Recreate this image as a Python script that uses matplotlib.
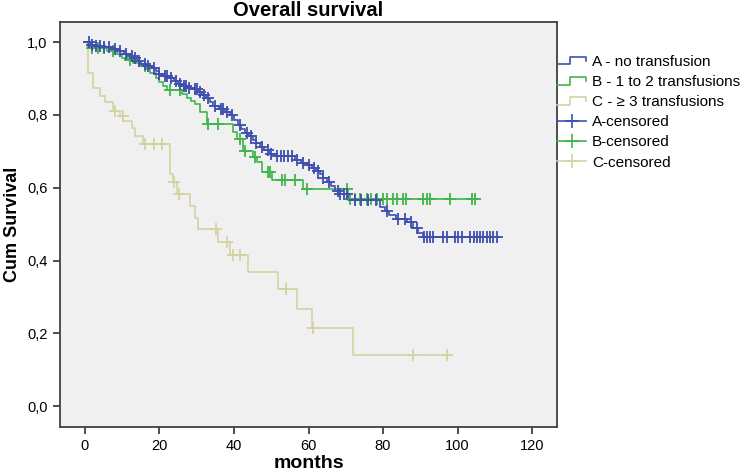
import numpy as np
import matplotlib
matplotlib.use("Agg")
import matplotlib.pyplot as plt
from matplotlib.lines import Line2D
from matplotlib.legend_handler import HandlerBase

plt.rcParams['font.family'] = ['Liberation Sans', 'DejaVu Sans']

# ---------------- data ----------------
A_times = [0, 1.5, 3, 5, 7, 9, 10.5, 12, 13, 14, 15, 16.5, 18, 19, 20, 21, 22.5, 24, 25, 26,
           27.5, 29, 30.5, 31.5, 32.5, 33.5, 34.5, 36, 37.5, 39, 40, 41, 42, 43, 44, 45, 46, 47,
           48, 49.5, 51, 56.5, 58, 59.5, 61, 62, 63, 64, 65, 66, 67, 68, 70.6, 79.2, 80.5, 81.5,
           83.5, 86.5, 88, 89.5, 90.8]
A_surv = [1.0, 0.993, 0.989, 0.985, 0.980, 0.975, 0.968, 0.962, 0.955, 0.948, 0.941, 0.935,
          0.929, 0.921, 0.912, 0.906, 0.900, 0.893, 0.885, 0.879, 0.875, 0.870, 0.863, 0.855,
          0.846, 0.836, 0.824, 0.815, 0.808, 0.800, 0.785, 0.772, 0.760, 0.750, 0.742, 0.730,
          0.722, 0.712, 0.703, 0.693, 0.687, 0.676, 0.668, 0.661, 0.653, 0.645, 0.637, 0.627,
          0.617, 0.606, 0.592, 0.583, 0.566, 0.546, 0.535, 0.525, 0.514, 0.505, 0.490, 0.477,
          0.465]
A_end = 110.5
A_censor = [1, 2, 3, 4, 5, 6.5, 8, 9.5, 11, 12.5, 13.5, 14.5, 16, 17, 18.5, 20, 21.5, 22, 23,
            24.5, 25.5, 26.5, 27, 28, 29.5, 30, 31, 32, 33, 35, 36.5, 37, 38, 39.5, 41.5, 43.5,
            44.5, 46, 47.5, 49, 50, 51.5, 52.5, 53.5, 54.5, 55.5, 57, 58.5, 60, 61.5, 62.5, 64,
            65.5, 67.8, 68.5, 69.5, 70.2, 72.5, 74, 76, 78, 81, 84, 86, 87.5, 89, 91.1, 91.7,
            92.6, 93.5, 96.2, 97.1, 99.3, 100.2, 101.1, 103.4, 104.3, 105.2, 106.0, 106.9,
            107.8, 108.7, 109.6, 110.5]

B_times = [0, 0.8, 6, 8.5, 10, 11.5, 13, 14.8, 16.5, 17.5, 19.2, 20, 21, 21.9, 26, 27.3, 28.5,
           29.5, 30.9, 32.7, 39.8, 40.7, 42.5, 45.2, 46.1, 47.4, 50.1, 58.6, 70.5]
B_surv = [1.0, 0.984, 0.975, 0.966, 0.957, 0.950, 0.943, 0.934, 0.925, 0.916, 0.900, 0.890,
          0.879, 0.868, 0.857, 0.845, 0.838, 0.829, 0.808, 0.774, 0.752, 0.733, 0.701, 0.683,
          0.670, 0.642, 0.621, 0.596, 0.568]
B_end = 105.5
B_censor = [2, 3.5, 5, 7.5, 12, 16, 22.8, 25.5, 33, 35.8, 41.6, 42.9, 45.6, 49.2, 49.7, 52.9,
            53.6, 56.4, 59.5, 70.2, 71.1, 72.5, 73.8, 75.6, 76.9, 78.3, 80.1, 81.0, 82.8, 83.7,
            85.4, 86.3, 90.8, 91.7, 92.6, 98.0, 103.8, 104.7]

C_times = [0, 0.9, 2.2, 4.0, 5.4, 7.6, 9.4, 10.3, 12.5, 13.4, 15.7, 22.8, 23.7, 24.6, 28.2,
           29.5, 30.4, 35.8, 38.9, 43.8, 51.9, 56.8, 61.0, 72.0]
C_surv = [1.0, 0.916, 0.875, 0.852, 0.834, 0.811, 0.797, 0.784, 0.765, 0.742, 0.720, 0.637,
          0.615, 0.583, 0.551, 0.518, 0.487, 0.452, 0.414, 0.368, 0.322, 0.268, 0.215, 0.142]
C_end = 98
C_censor = [8.0, 10.2, 16.2, 18.5, 20.7, 23.8, 25.3, 35.3, 38.0, 39.8, 41.6, 54.0, 61.2, 88.0,
            97.1]

labels = ["A - no transfusion", "B - 1 to 2 transfusions", "C - \u2265 3 transfusions",
          "A-censored", "B-censored", "C-censored"]
colors = ["#3e4fae", "#3fb54a", "#d5d2a2"]

# ---------------- figure ----------------
fig = plt.figure(figsize=(7.42, 4.76), dpi=100)
ax = fig.add_axes([60 / 742, 1 - 427 / 476, (557 - 60) / 742, (427 - 22) / 476])
ax.set_facecolor("#f0f0f0")

series = [(C_times, C_surv, C_end, C_censor, colors[2]),
          (B_times, B_surv, B_end, B_censor, colors[1]),
          (A_times, A_surv, A_end, A_censor, colors[0])]
for times, surv, end, cens, col in series:
    t = np.array(list(times) + [end])
    s = np.array(list(surv) + [surv[-1]])
    ax.step(t, s, where="post", color=col, lw=1.2, zorder=3)
    ct = np.array(cens)
    idx = np.searchsorted(np.array(times), ct, side="right") - 1
    ax.plot(ct, np.array(surv)[idx], ls="none", marker="+", ms=8, mew=1.3,
            color=col, zorder=4)

ax.set_xlim(-6.7, 126.7)
ax.set_ylim(-0.057, 1.055)
ax.set_xticks([0, 20, 40, 60, 80, 100, 120])
ax.set_yticks([0, 0.2, 0.4, 0.6, 0.8, 1.0])
ax.set_yticklabels([f"{v:.1f}".replace(".", ",") for v in [0, 0.2, 0.4, 0.6, 0.8, 1.0]])
ax.tick_params(direction="out", length=5, width=1.3, color="#404040", labelsize=10.5,
               pad=4)
for sp in ax.spines.values():
    sp.set_color("#404040")
    sp.set_linewidth(1.3)

ax.set_title("Overall survival", fontsize=14.5, fontweight="bold", pad=4)
ax.set_xlabel("months", fontsize=14, fontweight="bold", labelpad=1)
ax.set_ylabel("Cum Survival", fontsize=13, fontweight="bold", labelpad=4)


class StepHandler(HandlerBase):
    def create_artists(self, legend, orig_handle, xdescent, ydescent, width, height,
                       fontsize, trans):
        x0, x1 = -xdescent, -xdescent + width
        yb, yt = -ydescent + 0.15 * height, -ydescent + 0.85 * height
        xm = x0 + 0.45 * width
        xs = [x0, xm, xm, x1, x1]
        ys = [yb, yb, yt, yt, yt - 0.35 * height]
        ln = Line2D(xs, ys, color=orig_handle.get_color(), lw=1.2, transform=trans)
        return [ln]


handles = [Line2D([], [], color=c) for c in colors]
handles += [Line2D([], [], color=c, lw=1.2, marker="+", ms=10, mew=1.2) for c in colors]
handler_map = {h: StepHandler() for h in handles[:3]}
fig.legend(handles, labels, loc="upper left", bbox_to_anchor=(557 / 742, 1 - 55 / 476),
           frameon=False, fontsize=11, handlelength=1.9, handletextpad=0.4,
           labelspacing=0.4, borderaxespad=0, borderpad=0, handler_map=handler_map)

fig.savefig("out.png", dpi=100)
